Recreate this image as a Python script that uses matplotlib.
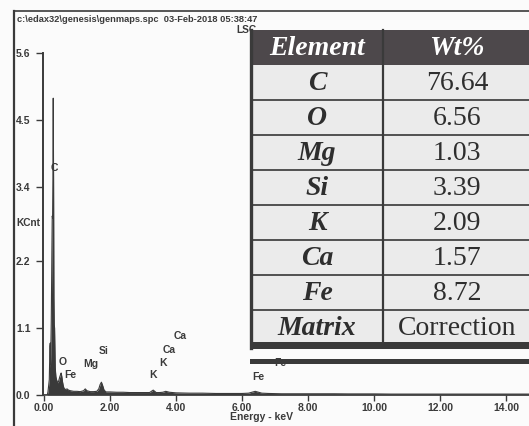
import matplotlib
matplotlib.use("Agg")
from matplotlib import pyplot as plt
from matplotlib.patches import Rectangle

# spectrum (keV, KCnt)
energy = [0.00, 0.10, 0.12, 0.14, 0.16, 0.18, 0.19, 0.20, 0.22, 0.24, 0.25,
          0.26, 0.27, 0.28, 0.29, 0.30, 0.31, 0.32, 0.34, 0.36, 0.38, 0.40,
          0.42, 0.44, 0.46, 0.48, 0.50, 0.52, 0.54, 0.56, 0.58, 0.60, 0.62,
          0.66, 0.70, 0.74, 0.80, 0.90, 1.00, 1.10, 1.20, 1.25, 1.30, 1.40,
          1.50, 1.60, 1.66, 1.70, 1.74, 1.78, 1.82, 1.88, 2.00, 2.20, 2.40,
          2.60, 2.80, 3.00, 3.20, 3.31, 3.40, 3.50, 3.60, 3.69, 3.80, 3.90,
          4.00, 4.40, 4.80, 5.20, 5.60, 6.00, 6.20, 6.40, 6.60, 6.80, 7.20,
          7.60, 8.00, 8.40, 8.80, 9.20, 9.60, 10.00, 10.50, 11.00, 12.00,
          13.00, 14.00, 14.70]
counts = [0.00, 0.00, 0.05, 0.15, 0.25, 0.80, 0.85, 0.50, 1.20, 2.40, 2.93,
          2.90, 3.54, 4.86, 3.54, 1.60, 1.15, 1.10, 0.45, 0.30, 0.25, 0.22,
          0.20, 0.22, 0.26, 0.30, 0.33, 0.36, 0.30, 0.22, 0.16, 0.12, 0.10,
          0.09, 0.10, 0.08, 0.07, 0.06, 0.06, 0.055, 0.07, 0.10, 0.07, 0.055,
          0.055, 0.06, 0.10, 0.17, 0.21, 0.15, 0.08, 0.05, 0.05, 0.045, 0.045,
          0.04, 0.04, 0.04, 0.04, 0.08, 0.04, 0.04, 0.045, 0.06, 0.045, 0.04,
          0.035, 0.03, 0.03, 0.025, 0.025, 0.025, 0.03, 0.06, 0.03, 0.025, 0.02,
          0.02, 0.02, 0.02, 0.02, 0.018, 0.018, 0.018, 0.015, 0.015, 0.015,
          0.015, 0.015, 0.015]

peak_names = ["C", "O", "Fe", "Mg", "Si", "K", "K", "Ca", "Ca", "Fe", "Fe"]
label_x = [0.30, 0.55, 0.79, 1.42, 1.82, 3.30, 3.60, 3.79, 4.12, 6.48, 7.15]
label_y = [3.71, 0.54, 0.33, 0.51, 0.72, 0.33, 0.53, 0.74, 0.96, 0.30, 0.53]

xticks = [0, 2, 4, 6, 8, 10, 12, 14]
yticks = [0.0, 1.1, 2.2, 3.4, 4.5, 5.6]

elements = ["C", "O", "Mg", "Si", "K", "Ca", "Fe", "Matrix"]
wt_pct = ["76.64", "6.56", "1.03", "3.39", "2.09", "1.57", "8.72", "Correction"]

W, H = 529, 426
ink = "#3a3a3a"
sans = "Liberation Sans"
serif = "Liberation Serif"

fig = plt.figure(figsize=(W / 100, H / 100), dpi=100, facecolor="#fbfbfb")

# main spectrum axes (pixel layout: y-axis at x=43, baseline y=395, top y=53)
ax = fig.add_axes([43 / W, (H - 395) / H, (W - 43) / W, (395 - 53) / H])
ax.set_facecolor("none")
ax.fill_between(energy, counts, color=ink, lw=0)
ax.plot(energy, counts, color=ink, lw=0.8)
ax.set_xlim(-1 / 33, -1 / 33 + (W - 43) / 33)
ax.set_ylim(0, 5.6)
for s in ["top", "right"]:
    ax.spines[s].set_visible(False)
ax.spines["left"].set_color(ink)
ax.spines["left"].set_linewidth(1.4)
ax.spines["bottom"].set_color(ink)
ax.spines["bottom"].set_linewidth(1.1)
ax.set_xticks(xticks)
ax.set_xticklabels(["%.2f" % v for v in xticks], fontfamily=sans,
                   fontweight="bold", fontsize=7.5, color=ink)
ax.set_yticks(yticks)
ax.set_yticklabels(["%.1f" % v for v in yticks], fontfamily=sans,
                   fontweight="bold", fontsize=7.5, color=ink, ha="left")
ax.tick_params(axis="x", length=4, width=1, color=ink, pad=2)
ax.tick_params(axis="y", length=5, width=1, color=ink, pad=14.5)

for name, lx, ly in zip(peak_names, label_x, label_y):
    ax.text(lx, ly, name, ha="center", va="center", fontfamily=sans,
            fontweight="bold", fontsize=7.5, color=ink)

# overlay in pixel coordinates for frame, header and table
ov = fig.add_axes([0, 0, 1, 1])
ov.set_xlim(0, W)
ov.set_ylim(H, 0)
ov.axis("off")
ov.set_facecolor("none")

ov.plot([14, 14], [11, H], color=ink, lw=1.6)
ov.plot([14, W], [11, 11], color=ink, lw=1.2)
ov.text(17, 19, "c:\\edax32\\genesis\\genmaps.spc  03-Feb-2018 05:38:47",
        ha="left", va="center", fontfamily=sans, fontweight="bold",
        fontsize=6.7, color=ink)
ov.text(236, 30, "LSC", ha="left", va="center", fontfamily=sans,
        fontweight="bold", fontsize=7.3, color=ink)
ov.text(16, 223, "KCnt", ha="left", va="center", fontfamily=sans,
        fontweight="bold", fontsize=7.3, color=ink)
ov.text(261, 417, "Energy - keV", ha="center", va="center", fontfamily=sans,
        fontweight="bold", fontsize=7.5, color=ink)

t_left, t_right, t_split = 251, W + 10, 383
t_top, head_bot, row_h = 30, 65, 35
t_bot = head_bot + row_h * len(elements)

ov.add_patch(Rectangle((t_left, head_bot), t_right - t_left, t_bot - head_bot,
                       facecolor="#ebebeb", edgecolor="none", zorder=3))
ov.add_patch(Rectangle((t_left, t_top), t_right - t_left, head_bot - t_top,
                       facecolor="#4d484b", edgecolor="none", zorder=3))
for i in range(1, len(elements)):
    y = head_bot + row_h * i
    ov.plot([t_left, t_right], [y, y], color="#444444", lw=1.3, zorder=4)
ov.plot([t_split, t_split], [t_top, t_bot], color="#3a3a3a", lw=1.6, zorder=4)
ov.add_patch(Rectangle((t_left - 1, t_bot - 3), t_right - t_left, 7,
                       facecolor="#3a3a3a", edgecolor="none", zorder=4))
ov.plot([t_left, t_left], [t_top, t_bot + 3], color="#3a3a3a", lw=2.4, zorder=4)
ov.add_patch(Rectangle((t_left - 1, 359), t_right - t_left, 5,
                       facecolor="#3a3a3a", edgecolor="none", zorder=4))

cx1, cx2 = (t_left + t_split) / 2, 457
ov.text(cx1, (t_top + head_bot) / 2 + 1, "Element", ha="center", va="center",
        fontfamily=serif, fontweight="bold", fontstyle="italic", fontsize=20,
        color="white", zorder=5)
ov.text(cx2, (t_top + head_bot) / 2 + 1, "Wt%", ha="center", va="center",
        fontfamily=serif, fontweight="bold", fontstyle="italic", fontsize=20,
        color="white", zorder=5)
for i, (el, wt) in enumerate(zip(elements, wt_pct)):
    yc = head_bot + row_h * i + row_h / 2 + 1
    ov.text(cx1, yc, el, ha="center", va="center", fontfamily=serif,
            fontweight="bold", fontstyle="italic", fontsize=20,
            color="#2e2e2e", zorder=5)
    ov.text(cx2, yc, wt, ha="center", va="center", fontfamily=serif,
            fontsize=20, color="#2e2e2e", zorder=5)

fig.savefig("out.png", dpi=100, facecolor=fig.get_facecolor())
